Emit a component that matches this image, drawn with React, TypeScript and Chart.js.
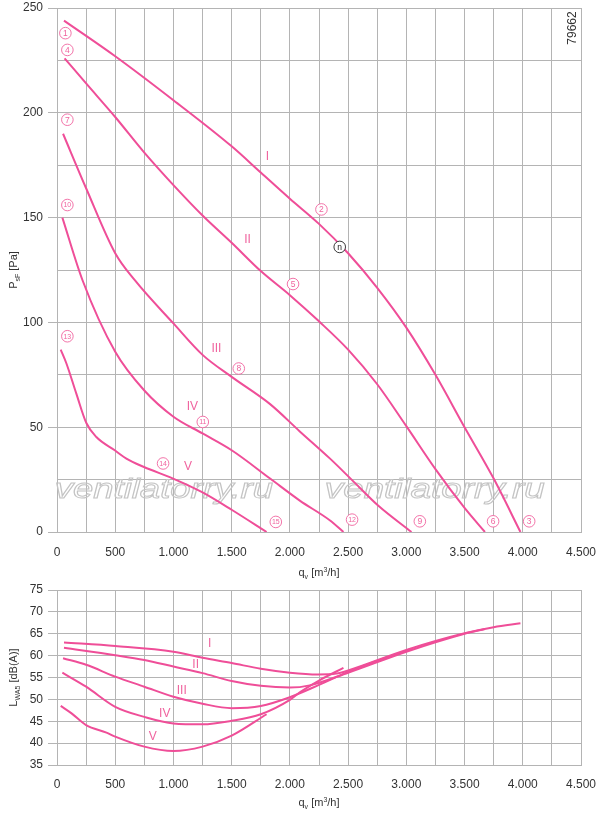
import React, { useEffect, useRef } from 'react';
import { Chart, registerables } from 'chart.js';

Chart.register(...registerables);

const FONT = "'Liberation Sans', Arial, Helvetica, sans-serif";
const PINK = '#ef4e98';
const LABEL_PINK = '#f0649f';
const GRID = '#b4b4b4';
const TEXT = '#333333';

// ---- Pressure curves (top chart): q_v [m3/h] vs P_sF [Pa]
const Q_I = [60, 500, 1000, 1500, 1750, 2000, 2250, 2500, 2750, 3000, 3250, 3500, 3750, 3980];
const P_I = [244, 227, 206, 184, 171.5, 159, 147, 133, 116.5, 97.5, 75, 50, 25.5, 0];
const Q_II = [65, 250, 500, 750, 1000, 1250, 1500, 1750, 2000, 2250, 2500, 2750, 3000, 3250, 3500, 3675];
const P_II = [226, 214, 198, 181, 165.5, 151, 138, 124.5, 113, 100.5, 87, 70.5, 50.5, 30, 11.5, 0];
const Q_III = [52, 250, 500, 670, 1000, 1250, 1500, 1830, 2085, 2345, 2530, 2760, 3044];
const P_III = [190, 164, 133, 120, 99.5, 84.5, 74, 61, 48, 35, 25, 12.5, 0];
const Q_IV = [46, 220, 500, 750, 1000, 1250, 1500, 1830, 2085, 2345, 2460];
const P_IV = [150, 120, 86, 67.5, 55, 47, 39, 25.5, 15, 5.5, 0];
const Q_V = [32, 81, 166, 252, 338, 496, 596, 747, 997, 1246, 1503, 1800];
const P_V = [87, 80.4, 66, 52, 45.3, 39, 35, 31, 25.5, 19, 10.5, 0];

// ---- Sound power curves (bottom chart): q_v [m3/h] vs L_WA5 [dB(A)]
const LQ_I = [60, 500, 1000, 1250, 1500, 1750, 2000, 2240, 2400, 2500, 3000, 3500, 3750, 3980];
const L_I = [63.0, 62.2, 60.9, 59.5, 58.3, 57.0, 56.1, 55.7, 55.9, 56.6, 61.3, 65.1, 66.5, 67.4];
const LQ_II = [60, 500, 750, 1000, 1250, 1500, 1750, 2000, 2170, 2500, 3000, 3500, 3675];
const L_II = [61.8, 60.1, 59.0, 57.5, 56.0, 54.2, 53.1, 52.7, 53.2, 56.1, 60.9, 65.0, 66.1];
const LQ_III = [52, 250, 500, 750, 1000, 1250, 1500, 1750, 2000, 2250, 2500, 3044];
const L_III = [59.4, 57.9, 55.2, 52.9, 50.6, 49.0, 48.0, 48.5, 50.5, 53.3, 56.3, 61.6];
const LQ_IV = [46, 250, 500, 750, 1000, 1250, 1500, 1750, 2000, 2085, 2250, 2460];
const L_IV = [56.1, 52.9, 48.3, 46.0, 44.5, 44.3, 45.1, 46.6, 49.9, 51.6, 54.3, 57.2];
const LQ_V = [32, 125, 250, 425, 500, 750, 1000, 1250, 1500, 1800];
const L_V = [48.5, 46.8, 44.1, 42.4, 41.5, 39.2, 38.2, 39.2, 41.7, 46.6];

// ---- Axes
const Q_MIN = 0;
const Q_MAX = 4500;
const Q_STEP = 250;
const Q_LABEL_STEP = 500;
const P_MIN = 0;
const P_MAX = 250;
const P_STEP = 25;
const P_LABEL_STEP = 50;
const L_MIN = 35;
const L_MAX = 75;
const L_STEP = 5;

// ---- Annotations
const CIRCLE_NUMS = ['1', '4', '7', '10', '13', '2', '5', '8', '11', '14', '3', '6', '9', '12', '15'];
const CIRCLE_Q = [72, 89, 89, 89, 89, 2271, 2027, 1561, 1252, 911, 4055, 3745, 3116, 2534, 1879];
const CIRCLE_P = [238, 230, 196.7, 156, 93.4, 153.9, 118.3, 78, 52.5, 32.7, 5.1, 5.1, 5.1, 5.9, 4.8];
const N_MARK_Q = 2428;
const N_MARK_P = 136;
const ROMAN = ['I', 'II', 'III', 'IV', 'V'];
const ROMAN_TOP_Q = [1807, 1636, 1369, 1163, 1125];
const ROMAN_TOP_P = [179, 139.3, 87.6, 59.7, 31];
const ROMAN_BOT_Q = [1312, 1191, 1071, 925, 822];
const ROMAN_BOT_L = [62.7, 57.9, 52.1, 46.7, 41.4];
const WATERMARK = 'ventilatorry.ru';
const WM_Q_START = [-20, 2300];
const WM_Q_END = [1855, 4188];
const WM_P = 16;
const DRAWING_NO = '79662';

type Part = { t: string; size: number; dy: number };
const Y_TITLE_TOP: Part[] = [
  { t: 'P', size: 11, dy: 0 },
  { t: 'sF', size: 7, dy: 3 },
  { t: ' [Pa]', size: 11, dy: 0 },
];
const Y_TITLE_BOT: Part[] = [
  { t: 'L', size: 11, dy: 0 },
  { t: 'WA5', size: 7, dy: 3 },
  { t: ' [dB(A)]', size: 11, dy: 0 },
];
const X_TITLE: Part[] = [
  { t: 'q', size: 11, dy: 0 },
  { t: 'v', size: 7, dy: 3 },
  { t: ' [m', size: 11, dy: 0 },
  { t: '3', size: 7, dy: -4 },
  { t: '/h]', size: 11, dy: 0 },
];

function fmtQ(v: number): string {
  if (v >= 1000) {
    const th = Math.floor(v / 1000);
    const rest = String(v % 1000).padStart(3, '0');
    return `${th}.${rest}`;
  }
  return String(v);
}

function drawRich(ctx: CanvasRenderingContext2D, parts: Part[], cx: number, cy: number, rotate: boolean) {
  ctx.save();
  ctx.translate(cx, cy);
  if (rotate) ctx.rotate(-Math.PI / 2);
  ctx.fillStyle = TEXT;
  ctx.textBaseline = 'alphabetic';
  ctx.textAlign = 'left';
  let total = 0;
  const widths = parts.map((p) => {
    ctx.font = `${p.size}px ${FONT}`;
    const w = ctx.measureText(p.t).width;
    total += w;
    return w;
  });
  let x = -total / 2;
  parts.forEach((p, i) => {
    ctx.font = `${p.size}px ${FONT}`;
    ctx.fillText(p.t, x, 4 + p.dy);
    x += widths[i];
  });
  ctx.restore();
}

function makeSeries(qs: number[], vs: number[]) {
  return {
    data: qs.map((q, i) => ({ x: q, y: vs[i] })),
    borderColor: PINK,
    backgroundColor: PINK,
    borderWidth: 2,
    pointRadius: 0,
    fill: false,
    cubicInterpolationMode: 'monotone' as const,
  };
}

const tickFont = { family: FONT, size: 12 };

function xScale(padding: number, height: number) {
  return {
    type: 'linear' as const,
    min: Q_MIN,
    max: Q_MAX,
    afterFit: (s: any) => {
      s.height = height;
      s.paddingLeft = 0;
      s.paddingRight = 0;
    },
    ticks: {
      stepSize: Q_STEP,
      autoSkip: false,
      maxRotation: 0,
      padding,
      color: TEXT,
      font: tickFont,
      callback: (v: number) => (v % Q_LABEL_STEP === 0 ? fmtQ(v) : ''),
    },
    grid: { color: GRID, lineWidth: 1, drawTicks: false },
    border: { color: GRID, width: 1 },
  };
}

function yScale(min: number, max: number, step: number, labelStep: number, width: number) {
  return {
    type: 'linear' as const,
    min,
    max,
    afterFit: (s: any) => {
      s.width = width;
      s.paddingTop = 0;
      s.paddingBottom = 0;
    },
    ticks: {
      stepSize: step,
      autoSkip: false,
      padding: 5,
      color: TEXT,
      font: tickFont,
      callback: (v: number) => (v % labelStep === 0 ? String(v) : ''),
    },
    grid: {
      color: GRID,
      lineWidth: 1,
      tickLength: 9,
      tickColor: (ctx: any) => (ctx.tick && ctx.tick.value % labelStep === 0 ? GRID : 'rgba(0,0,0,0)'),
    },
    border: { color: GRID, width: 1 },
  };
}

function drawCircled(ctx: CanvasRenderingContext2D, x: number, y: number, label: string, color: string) {
  ctx.save();
  ctx.beginPath();
  ctx.arc(x, y, 5.8, 0, Math.PI * 2);
  ctx.fillStyle = '#ffffff';
  ctx.fill();
  ctx.lineWidth = 0.9;
  ctx.strokeStyle = color;
  ctx.stroke();
  ctx.fillStyle = color;
  ctx.font = `${label.length > 1 ? 7 : 8.5}px ${FONT}`;
  ctx.textAlign = 'center';
  ctx.textBaseline = 'middle';
  ctx.fillText(label, x, y + 0.5);
  ctx.restore();
}

const topOverlay = {
  id: 'topOverlay',
  beforeDatasetsDraw(chart: any) {
    const { ctx, scales } = chart;
    const xs = scales.x;
    const ys = scales.y;
    ctx.save();
    ctx.font = `italic 28px ${FONT}`;
    const mw = ctx.measureText(WATERMARK).width;
    WM_Q_START.forEach((q0, i) => {
      const x0 = xs.getPixelForValue(q0);
      const x1 = xs.getPixelForValue(WM_Q_END[i]);
      const y0 = ys.getPixelForValue(WM_P);
      ctx.save();
      ctx.translate(x0, y0);
      ctx.scale((x1 - x0) / mw, 1);
      ctx.strokeStyle = '#c4c4c4';
      ctx.lineWidth = 1;
      ctx.strokeText(WATERMARK, 0, 0);
      ctx.restore();
    });
    ctx.restore();
  },
  afterDatasetsDraw(chart: any) {
    const { ctx, scales, chartArea } = chart;
    const xs = scales.x;
    const ys = scales.y;
    CIRCLE_NUMS.forEach((n, i) => {
      drawCircled(ctx, xs.getPixelForValue(CIRCLE_Q[i]), ys.getPixelForValue(CIRCLE_P[i]), n, LABEL_PINK);
    });
    drawCircled(ctx, xs.getPixelForValue(N_MARK_Q), ys.getPixelForValue(N_MARK_P), 'n', '#222222');
    ctx.save();
    ctx.fillStyle = LABEL_PINK;
    ctx.font = `12px ${FONT}`;
    ctx.textAlign = 'center';
    ctx.textBaseline = 'middle';
    ROMAN.forEach((r, i) => {
      ctx.fillText(r, xs.getPixelForValue(ROMAN_TOP_Q[i]), ys.getPixelForValue(ROMAN_TOP_P[i]));
    });
    ctx.restore();
    ctx.save();
    ctx.translate(chartArea.right - 8, chartArea.top + 20);
    ctx.rotate(-Math.PI / 2);
    ctx.fillStyle = TEXT;
    ctx.font = `12px ${FONT}`;
    ctx.textAlign = 'center';
    ctx.textBaseline = 'middle';
    ctx.fillText(DRAWING_NO, 0, 0);
    ctx.restore();
  },
  afterDraw(chart: any) {
    const { ctx, chartArea } = chart;
    drawRich(ctx, Y_TITLE_TOP, 13, (chartArea.top + chartArea.bottom) / 2, true);
    drawRich(ctx, X_TITLE, (chartArea.left + chartArea.right) / 2, chartArea.bottom + 40, false);
  },
};

const bottomOverlay = {
  id: 'bottomOverlay',
  afterDatasetsDraw(chart: any) {
    const { ctx, scales } = chart;
    const xs = scales.x;
    const ys = scales.y;
    ctx.save();
    ctx.fillStyle = LABEL_PINK;
    ctx.font = `12px ${FONT}`;
    ctx.textAlign = 'center';
    ctx.textBaseline = 'middle';
    ROMAN.forEach((r, i) => {
      ctx.fillText(r, xs.getPixelForValue(ROMAN_BOT_Q[i]), ys.getPixelForValue(ROMAN_BOT_L[i]));
    });
    ctx.restore();
  },
  afterDraw(chart: any) {
    const { ctx, chartArea } = chart;
    drawRich(ctx, Y_TITLE_BOT, 13, (chartArea.top + chartArea.bottom) / 2, true);
    drawRich(ctx, X_TITLE, (chartArea.left + chartArea.right) / 2, chartArea.bottom + 37, false);
  },
};

export default function App() {
  const topRef = useRef<HTMLCanvasElement>(null);
  const botRef = useRef<HTMLCanvasElement>(null);

  useEffect(() => {
    const top = new Chart(topRef.current as HTMLCanvasElement, {
      type: 'line',
      data: {
        datasets: [
          makeSeries(Q_I, P_I),
          makeSeries(Q_II, P_II),
          makeSeries(Q_III, P_III),
          makeSeries(Q_IV, P_IV),
          makeSeries(Q_V, P_V),
        ],
      },
      options: {
        animation: false,
        responsive: false,
        maintainAspectRatio: false,
        layout: { padding: { top: 8, right: 19, left: 0, bottom: 0 } },
        plugins: { legend: { display: false }, tooltip: { enabled: false } },
        scales: {
          x: xScale(13, 48),
          y: yScale(P_MIN, P_MAX, P_STEP, P_LABEL_STEP, 57),
        },
      } as any,
      plugins: [topOverlay],
    } as any);

    const bot = new Chart(botRef.current as HTMLCanvasElement, {
      type: 'line',
      data: {
        datasets: [
          makeSeries(LQ_I, L_I),
          makeSeries(LQ_II, L_II),
          makeSeries(LQ_III, L_III),
          makeSeries(LQ_IV, L_IV),
          makeSeries(LQ_V, L_V),
        ],
      },
      options: {
        animation: false,
        responsive: false,
        maintainAspectRatio: false,
        layout: { padding: { top: 10, right: 19, left: 0, bottom: 0 } },
        plugins: { legend: { display: false }, tooltip: { enabled: false } },
        scales: {
          x: xScale(12, 51),
          y: yScale(L_MIN, L_MAX, L_STEP, L_STEP, 57),
        },
      } as any,
      plugins: [bottomOverlay],
    } as any);

    return () => {
      top.destroy();
      bot.destroy();
    };
  }, []);

  return (
    <div style={{ position: 'absolute', left: 0, top: 0, width: 600, height: 816, background: '#ffffff' }}>
      <canvas ref={topRef} width={600} height={580} style={{ display: 'block', width: 600, height: 580 }} />
      <canvas ref={botRef} width={600} height={236} style={{ display: 'block', width: 600, height: 236 }} />
    </div>
  );
}
